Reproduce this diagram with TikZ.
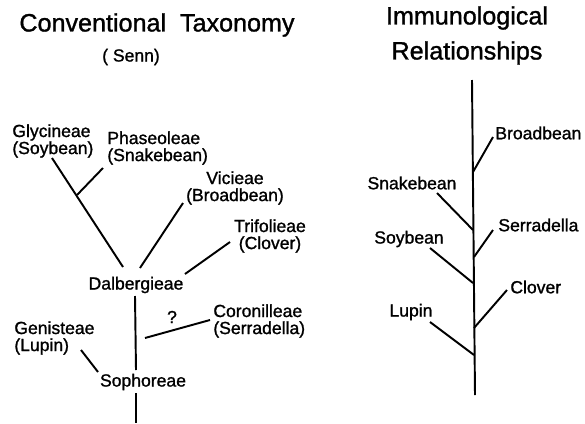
\documentclass[tikz,border=0pt]{standalone}
\usepackage{fontspec}
\setmainfont{Liberation Sans}
\newfontfamily\figfont{Liberation Sans}[FakeBold=1.2]

\begin{document}
\begin{tikzpicture}[x=0.02cm, y=-0.02cm,
    lbl/.style={font=\figfont\fontsize{10}{9.7}\selectfont, inner sep=0pt},
    ttl/.style={font=\figfont\fontsize{14.3}{16}\selectfont, inner sep=0pt},
    br/.style={line width=1.1pt}]
      % \draw[help lines, gray!50, very thin] (0,0) grid[step=50] (585,423);
      \useasboundingbox (0,0) rectangle (585,423);

      % conventional taxonomy
      \node[ttl] (conv) at (157,25) {Conventional\ \ Taxonomy};
      \node[lbl] (senn) at (131,57) {( Senn)};

      \node[lbl, anchor=west, align=left] (glyc) at (12,141) {Glycineae\\(Soybean)};
      \node[lbl, anchor=west, align=left] (phas) at (107,148) {Phaseoleae\\(Snakebean)};
      \node[lbl, align=center] (vici) at (235,188) {Vicieae\\(Broadbean)};
      \node[lbl, align=center] (trif) at (270,236) {Trifolieae\\(Clover)};
      \node[lbl] (dalb) at (136,285) {Dalbergieae};
      \node[lbl] (ques) at (172,317) {?};
      \node[lbl, anchor=west, align=left] (coro) at (213,321) {Coronilleae\\(Serradella)};
      \node[lbl, anchor=west, align=left] (geni) at (14,338) {Genisteae\\(Lupin)};
      \node[lbl] (soph) at (143,382) {Sophoreae};

      \coordinate (glycA) at (52,158);   \coordinate (glycB) at (123,267);
      \coordinate (phasA) at (103,168);  \coordinate (phasB) at (77,195);
      \coordinate (viciA) at (183,203);  \coordinate (viciB) at (140,268);
      \coordinate (trifA) at (230,242);  \coordinate (trifB) at (185,274);
      \coordinate (dalbA) at (135,296);  \coordinate (dalbB) at (136,370);
      \coordinate (coroA) at (210,320);  \coordinate (coroB) at (145,338);
      \coordinate (geniA) at (81,350);   \coordinate (geniB) at (98,372);
      \coordinate (sophA) at (136,393);  \coordinate (sophB) at (136,423);

      \draw[br] (glycA) -- (glycB);
      \draw[br] (phasA) -- (phasB);
      \draw[br] (viciA) -- (viciB);
      \draw[br] (trifA) -- (trifB);
      \draw[br] (dalbA) -- (dalbB);
      \draw[br] (coroA) -- (coroB);
      \draw[br] (geniA) -- (geniB);
      \draw[br] (sophA) -- (sophB);

      % immunological relationships
      \node[ttl] (immu) at (467,18) {Immunological};
      \node[ttl] (rela) at (467,53) {Relationships};

      \node[lbl, anchor=west] (broad) at (495,133) {Broadbean};
      \node[lbl] (snake) at (412,183) {Snakebean};
      \node[lbl, anchor=west] (serra) at (498,225) {Serradella};
      \node[lbl] (soy) at (409,239) {Soybean};
      \node[lbl, anchor=west] (clov) at (510,287) {Clover};
      \node[lbl] (lup) at (411,312) {Lupin};

      \coordinate (top) at (472,80);
      \coordinate (bot) at (475,395);
      \coordinate (broadA) at (493,137); \coordinate (broadB) at (473,172);
      \coordinate (snakeA) at (437,193); \coordinate (snakeB) at (473,230);
      \coordinate (serraA) at (493,230); \coordinate (serraB) at (474,257);
      \coordinate (soyA) at (430,248);   \coordinate (soyB) at (473,283);
      \coordinate (clovA) at (507,290);  \coordinate (clovB) at (474,328);
      \coordinate (lupA) at (430,322);   \coordinate (lupB) at (474,355);

      \draw[br] (top) -- (bot);
      \draw[br] (broadA) -- (broadB);
      \draw[br] (snakeA) -- (snakeB);
      \draw[br] (serraA) -- (serraB);
      \draw[br] (soyA) -- (soyB);
      \draw[br] (clovA) -- (clovB);
      \draw[br] (lupA) -- (lupB);
\end{tikzpicture}
\end{document}
